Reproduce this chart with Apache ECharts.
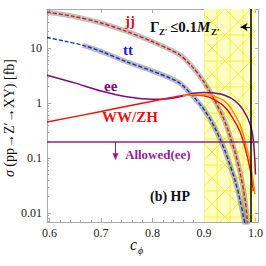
<!DOCTYPE html>
<html><head><meta charset="utf-8">
<script src="https://cdn.jsdelivr.net/npm/echarts@6/dist/echarts.min.js"></script>
<style>html,body{margin:0;padding:0;background:#fff}#c{width:266px;height:266px}</style>
</head><body><div id="c"></div>
<script>
// ---- data ----
const cJJ = [0.595,0.65,0.7,0.75,0.8,0.85,0.875,0.9,0.92,0.94,0.96,0.97,0.98,0.985];
const sJJ = [45,37,28.5,20,13,7.8,4.8,2.4,1.15,0.47,0.13,0.055,0.017,0.006];
const cTT = [0.595,0.63,0.665,0.7,0.75,0.8,0.85,0.875,0.9,0.92,0.94,0.96,0.97,0.98];
const sTT = [15.5,13.3,11.2,8.7,5.6,3.8,2.4,1.45,0.76,0.37,0.14,0.04,0.017,0.006];
const ttBandStart = 0.665;
const cEE = [0.595,0.65,0.7,0.75,0.8,0.83,0.86,0.88,0.9,0.92,0.94,0.96,0.976,0.99,0.996,1.0];
const sEE = [3.2,2.3,1.65,1.3,1.17,1.2,1.35,1.5,1.56,1.52,1.38,1.1,0.75,0.4,0.2,0.05];
const cWZ = [0.595,0.7,0.8,0.845,0.87,0.9,0.92,0.94,0.955,0.97,0.98,0.99,0.996];
const sWZ = [0.45,0.70,1.08,1.3,1.4,1.35,1.15,0.85,0.55,0.3,0.15,0.06,0.025];
const cOR = [0.86,0.88,0.9,0.92,0.94,0.953,0.97,0.98,0.99,0.996,0.999];
const sOR = [1.36,1.42,1.42,1.32,1.08,0.78,0.4,0.2,0.08,0.035,0.022];
const allowedEE = 0.2;
const allowedArrow = [0.728, 0.2, 0.105];
const widthLimit = 0.99;
const widthArrow = [0.99, 0.971, 24];
const bandRange = [0.9, 1.0];
const xTicks = [0.6,0.7,0.8,0.9,1.0];
const xMinor = [0.62,0.64,0.66,0.68,0.72,0.74,0.76,0.78,0.82,0.84,0.86,0.88,0.92,0.94,0.96,0.98];
const yTicks = [0.01,0.1,1,10];
const yMinor = [0.007,0.008,0.009,0.02,0.03,0.04,0.05,0.06,0.07,0.08,0.09,0.2,0.3,0.4,0.5,0.6,0.7,0.8,0.9,2,3,4,5,6,7,8,9,20,30,40,50];
const X_MIN = 0.595, X_MAX = 1.006, Y_MIN = 0.00686, Y_MAX = 51.2;

const zip = (a,b)=>a.map((x,i)=>[x,b[i]]);
const serif = '"Liberation Serif","DejaVu Serif",serif';
const axisCol = '#aaaaaa';
function xAx(extra){ return Object.assign({type:'value',min:X_MIN,max:X_MAX,splitLine:{show:false},
  axisLine:{show:true,lineStyle:{color:axisCol}},axisLabel:{show:false},axisTick:{show:false}}, extra); }
function yAx(extra){ return Object.assign({type:'log',min:Y_MIN,max:Y_MAX,splitLine:{show:false},
  axisLine:{show:true,lineStyle:{color:axisCol}},axisLabel:{show:false},axisTick:{show:false}}, extra); }

// hatched (meshed) excluded band
function renderBand(params, api){
  const p0 = api.coord([api.value(0), Y_MAX]);
  const p1 = api.coord([api.value(1), Y_MIN]);
  const x0=p0[0], y0=p0[1], x1=p1[0], y1=p1[1];
  const lineStyle = {stroke:'rgba(244,236,20,0.75)', lineWidth:1, fill:null};
  const children = [{type:'rect', shape:{x:x0,y:y0,width:x1-x0,height:y1-y0}, style:{fill:'#ffffc4'}}];
  const step = 13;
  for(let x=x0; x<=x1+0.1; x+=step) children.push({type:'line',shape:{x1:x,y1:y0,x2:x,y2:y1},style:lineStyle});
  for(let y=y0+2*step; y<=y1; y+=2*step) children.push({type:'line',shape:{x1:x0,y1:y,x2:x1,y2:y},style:lineStyle});
  const H = y1-y0;
  for(let k=-H; k<=x1-x0+H; k+=2*step){
    children.push({type:'line',shape:{x1:x0+k,y1:y0,x2:x0+k+H,y2:y1},style:lineStyle});
    children.push({type:'line',shape:{x1:x0+k,y1:y0,x2:x0+k-H,y2:y1},style:lineStyle});
  }
  return {type:'group', children, clipPath:{type:'rect',shape:{x:x0,y:y0,width:x1-x0,height:y1-y0}}};
}

const chart = echarts.init(document.getElementById('c'), null, {renderer:'svg'});
chart.setOption({
  animation:false,
  grid:{left:47,right:5,top:9,bottom:44},
  xAxis:[
    xAx({position:'bottom',axisLabel:{show:true,customValues:xTicks,formatter:v=>v.toFixed(1),margin:5,
      fontFamily:serif,fontSize:12,color:'#222'},
      axisTick:{show:true,inside:true,length:4,customValues:xTicks,lineStyle:{color:axisCol}}}),
    xAx({position:'bottom',axisLine:{show:false},axisTick:{show:true,inside:true,length:2,customValues:xMinor,lineStyle:{color:axisCol}}}),
    xAx({position:'top',axisTick:{show:true,inside:true,length:4,customValues:xTicks,lineStyle:{color:axisCol}}})
  ],
  yAxis:[
    yAx({position:'left',axisLabel:{show:true,customValues:yTicks,formatter:v=>String(v),margin:5,
      fontFamily:serif,fontSize:12,color:'#222'},
      axisTick:{show:true,inside:true,length:4,customValues:yTicks,lineStyle:{color:axisCol}}}),
    yAx({position:'left',axisLine:{show:false},axisTick:{show:true,inside:true,length:2,customValues:yMinor,lineStyle:{color:axisCol}}}),
    yAx({position:'right',axisTick:{show:true,inside:true,length:4,customValues:yTicks,lineStyle:{color:axisCol}}})
  ],
  series:[
    {type:'custom',z:1,silent:true,renderItem:renderBand,data:[[bandRange[0],bandRange[1]]],
      encode:{x:[0,1]},clip:true},
    {type:'line',z:2,data:zip(cJJ,sJJ),showSymbol:false,smooth:0.3,lineStyle:{color:'rgba(115,115,115,0.45)',width:5}},
    {type:'line',z:2,data:zip(cTT,sTT).filter(p=>p[0]>=ttBandStart),showSymbol:false,smooth:0.3,lineStyle:{color:'rgba(115,115,115,0.5)',width:5}},
    {type:'line',z:3,data:zip(cJJ,sJJ),showSymbol:false,smooth:0.3,lineStyle:{color:'#e21b1b',width:1.4,type:[4,2]}},
    {type:'line',z:3,data:zip(cTT,sTT),showSymbol:false,smooth:0.3,lineStyle:{color:'#1b2fd8',width:1.4,type:[4,2]}},
    {type:'line',z:3,data:zip(cEE,sEE),showSymbol:false,smooth:0.3,lineStyle:{color:'#7d0a84',width:1.5}},
    {type:'line',z:3,data:zip(cWZ,sWZ),showSymbol:false,smooth:0.3,lineStyle:{color:'#f01010',width:1.5}},
    {type:'line',z:3,data:zip(cOR,sOR),showSymbol:false,smooth:0.3,lineStyle:{color:'#ff8c00',width:1.5}},
    {type:'line',z:4,data:[],silent:true,
      markLine:{silent:true,symbol:'none',label:{show:false},
        data:[
          [{coord:[X_MIN,allowedEE],lineStyle:{color:'#9a1d9a',width:1.5,type:'solid'}},{coord:[X_MAX,allowedEE]}],
          [{coord:[widthLimit,Y_MIN],lineStyle:{color:'#000',width:1.5,type:'solid'}},{coord:[widthLimit,Y_MAX]}],
          [{coord:[allowedArrow[0],allowedArrow[1]],symbol:'none',lineStyle:{color:'#9a1d9a',width:1,type:'solid'}},{coord:[allowedArrow[0],allowedArrow[2]],symbol:'triangle',symbolSize:[6,7],symbolRotate:180}],
          [{coord:[widthArrow[0],widthArrow[2]],symbol:'none',lineStyle:{color:'#000',width:1,type:'solid'}},{coord:[widthArrow[1],widthArrow[2]],symbol:'arrow',symbolSize:[6,7]}]
        ]}}
  ],
  graphic:[
    {type:'text',z:100,left:125,top:13,style:{text:'jj',fill:'#e01515',font:'bold 15px '+serif}},
    {type:'text',z:100,left:123,top:42,style:{text:'tt',fill:'#1b1bf0',font:'bold 15px '+serif}},
    {type:'text',z:100,left:104,top:78,style:{text:'ee',fill:'#7d0a84',font:'bold 15px '+serif}},
    {type:'text',z:100,left:102,top:109,style:{text:'WW/ZH',fill:'#f01010',font:'bold 15px '+serif}},
    {type:'text',z:100,left:125,top:148,style:{text:'Allowed(ee)',fill:'#9a1d9a',font:'bold 13px '+serif}},
    {type:'text',z:100,left:150,top:189,style:{text:'(b) HP',fill:'#111',font:'bold 14px '+serif}},
    {type:'text',z:100,left:150,top:19,style:{text:'Γ',fill:'#111',font:'bold 15px '+serif}},
    {type:'text',z:100,left:159,top:27,style:{text:'Z′',fill:'#111',font:'bold 9px '+serif}},
    {type:'text',z:100,left:170,top:19,style:{text:'≤0.1',fill:'#111',font:'bold 15px '+serif}},
    {type:'text',z:100,left:197,top:19,style:{text:'M',fill:'#111',font:'italic bold 15px '+serif}},
    {type:'text',z:100,left:211,top:27,style:{text:'Z′',fill:'#111',font:'bold 9px '+serif}},
    {type:'text',z:100,left:130,top:236,style:{text:'c',fill:'#111',font:'italic 16px '+serif}},
    {type:'text',z:100,left:138,top:245,style:{text:'ϕ',fill:'#111',font:'italic 10px '+serif}},
    {type:'text',z:100,x:9,y:118,rotation:Math.PI/2,style:{text:'{i|σ} (pp→Z′→XY) [fb]',align:'center',verticalAlign:'middle',
      font:'14px '+serif,fill:'#111',rich:{i:{font:'italic 14px '+serif,fill:'#111'}}}}
  ]
});
</script></body></html>
